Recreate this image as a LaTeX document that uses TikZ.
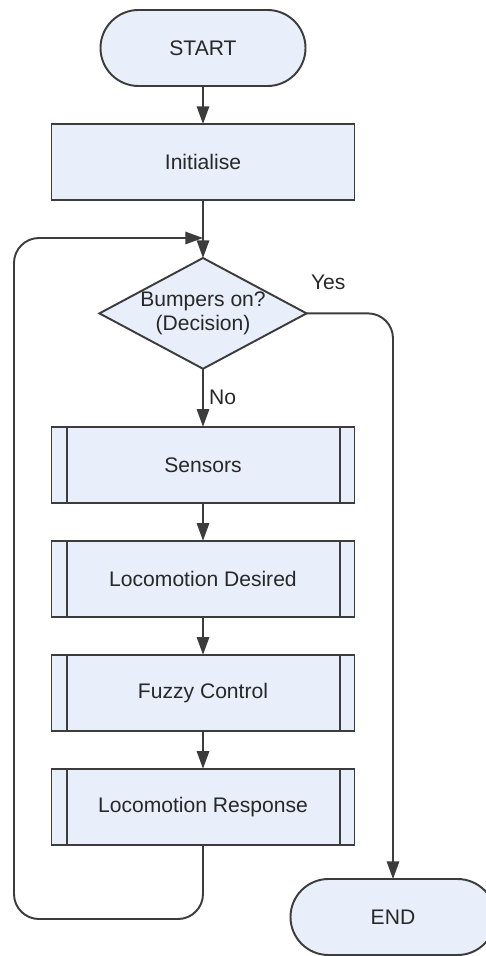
\documentclass[tikz,border=0pt]{standalone}
\usepackage[RGB]{xcolor}
\usepackage{fontspec}
\setmainfont{Liberation Sans}
\usetikzlibrary{positioning,shapes.geometric,arrows.meta,calc}
\definecolor{boxfill}{RGB}{232,238,250}
\definecolor{edge}{RGB}{60,60,60}
\definecolor{ink}{RGB}{40,40,40}
\tikzset{
  base/.style={draw=edge, fill=boxfill, line width=1.1pt, text=ink,
    font=\fontsize{12}{14}\selectfont, inner sep=0pt, outer sep=0pt},
  term/.style={base, rectangle, rounded corners=0.76cm,
    minimum width=4.1cm, minimum height=1.52cm},
  proc/.style={base, rectangle, minimum width=6.06cm, minimum height=1.52cm},
  subproc/.style={proc, path picture={
    \draw[edge, line width=1.3pt]
      ([xshift=0.31cm]path picture bounding box.north west) --
      ([xshift=0.31cm]path picture bounding box.south west);
    \draw[edge, line width=1.3pt]
      ([xshift=-0.29cm]path picture bounding box.north east) --
      ([xshift=-0.29cm]path picture bounding box.south east);}},
  decide/.style={base, diamond, aspect=1.87, minimum width=4.12cm,
    minimum height=2.2cm, align=center},
  flow/.style={draw=edge, line width=1.1pt,
    -{Triangle[length=10pt,width=7pt]}},
  lbl/.style={text=ink, font=\fontsize{12}{14}\selectfont, inner sep=1pt}
}
\begin{document}
\begin{tikzpicture}
\useasboundingbox (0,0) rectangle (9.7,-19.12);
\node[term] (start) at (4.06,-0.96) {START};
\node[proc, below=0.76cm of start] (init) {Initialise};
\node[decide, below=1.16cm of init] (dec) {Bumpers on?\\(Decision)};
\node[subproc, below=1.16cm of dec] (sens) {Sensors};
\node[subproc, below=0.76cm of sens] (locd) {Locomotion Desired};
\node[subproc, below=0.76cm of locd] (fuzzy) {Fuzzy Control};
\node[subproc, below=0.76cm of fuzzy] (locr) {Locomotion Response};
\node[term] (stop) at (7.86,-18.34) {END};
\coordinate (merge) at ([yshift=-0.76cm]init.south);
\coordinate (lowleft) at (0.28,-18.38);
% main line
\draw[flow] (start) -- (init);
\draw[flow] (init) -- (dec);
\draw[flow] (dec) -- node[lbl, right=2pt] {No} (sens);
\draw[flow] (sens) -- (locd);
\draw[flow] (locd) -- (fuzzy);
\draw[flow] (fuzzy) -- (locr);
% loop back
\draw[flow, rounded corners=0.5cm] (locr.south) |- (lowleft) |- (merge);
% exit
\draw[flow, rounded corners=0.5cm] (dec.east)
  node[lbl, anchor=south west, xshift=1pt, yshift=0.42cm] {Yes} -| (stop.north);
\end{tikzpicture}
\end{document}
